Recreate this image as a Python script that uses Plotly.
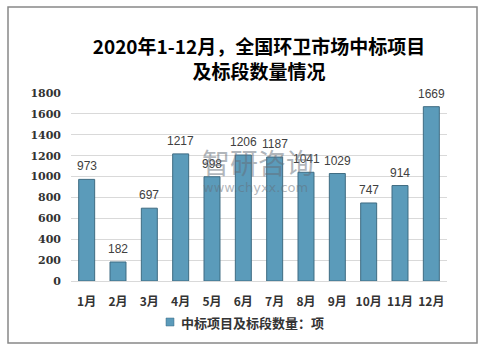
import plotly.graph_objects as go

months = ["1月", "2月", "3月", "4月", "5月", "6月", "7月", "8月", "9月", "10月", "11月", "12月"]
values = [973, 182, 697, 1217, 998, 1206, 1187, 1041, 1029, 747, 914, 1669]
series_name = "中标项目及标段数量：项"
title_text = "2020年1-12月，全国环卫市场中标项目<br>及标段数量情况"
y_ticks = [0, 200, 400, 600, 800, 1000, 1200, 1400, 1600, 1800]

L, R, T, B = 71, 39, 93, 69
W, H = 486, 350
pw, ph = W - L - R, H - T - B
bar_color = "#5b9bba"

def px_x(x):
    return (x - L) / pw

def px_y(y):
    return (H - B - y) / ph

fig = go.Figure()
fig.add_trace(go.Bar(
    x=months, y=values, name=series_name,
    marker=dict(color=bar_color, line=dict(color="#3e6b82", width=1)),
    showlegend=False,
))

annotations = []
for m, v in zip(months, values):
    annotations.append(dict(x=m, y=v, xref="x", yref="y", text=str(v), showarrow=False,
                            yshift=13, yanchor="middle",
                            font=dict(family="Liberation Sans, Arial", size=12, color="#404040")))

annotations += [
    dict(text="智研咨询", xref="paper", yref="paper", x=px_x(258), y=px_y(162),
         showarrow=False, font=dict(family="Noto Sans CJK SC", size=28, color="rgba(100,110,120,0.5)")),
    dict(text="www.chyxx.com", xref="paper", yref="paper", x=px_x(255), y=px_y(187),
         showarrow=False, font=dict(family="DejaVu Sans", size=13, color="rgba(100,110,120,0.5)")),
    dict(text=series_name, xref="paper", yref="paper", x=px_x(179), y=px_y(322),
         xanchor="left", yanchor="middle", showarrow=False,
         font=dict(family="Noto Sans CJK SC", size=13, color="#333333", weight="bold")),
]

fig.update_layout(
    width=W, height=H,
    margin=dict(l=L, r=R, t=T, b=B),
    paper_bgcolor="white", plot_bgcolor="white",
    bargap=0.49,
    showlegend=False,
    title=dict(text=title_text, x=0.5, xanchor="center", xref="paper",
               y=1 - 54 / H, yanchor="middle",
               font=dict(family="Noto Sans CJK SC", size=19, color="#000000", weight="bold")),
    xaxis=dict(showgrid=False, showline=True, linecolor="#d9d9d9", linewidth=1,
               ticks="", ticklabelstandoff=10,
               tickfont=dict(family="Noto Sans CJK SC", size=12, color="#333333", weight="bold")),
    yaxis=dict(range=[0, 1800], tickvals=y_ticks, showgrid=True, gridcolor="#d9d9d9", gridwidth=1,
               zeroline=False, showline=False, ticks="", ticklabelstandoff=9,
               tickfont=dict(family="DejaVu Serif", size=11, color="#333333", weight="bold")),
    shapes=[
        dict(type="rect", xref="paper", yref="paper",
             x0=px_x(8), x1=px_x(477), y0=px_y(343), y1=px_y(7),
             line=dict(color="#888888", width=1.5), fillcolor="rgba(0,0,0,0)", layer="below"),
        dict(type="rect", xref="paper", yref="paper",
             x0=px_x(166), x1=px_x(174), y0=px_y(326), y1=px_y(318),
             line=dict(color="#3e6b82", width=0.5), fillcolor=bar_color),
    ],
    annotations=annotations,
)

fig.write_html("out.html")
